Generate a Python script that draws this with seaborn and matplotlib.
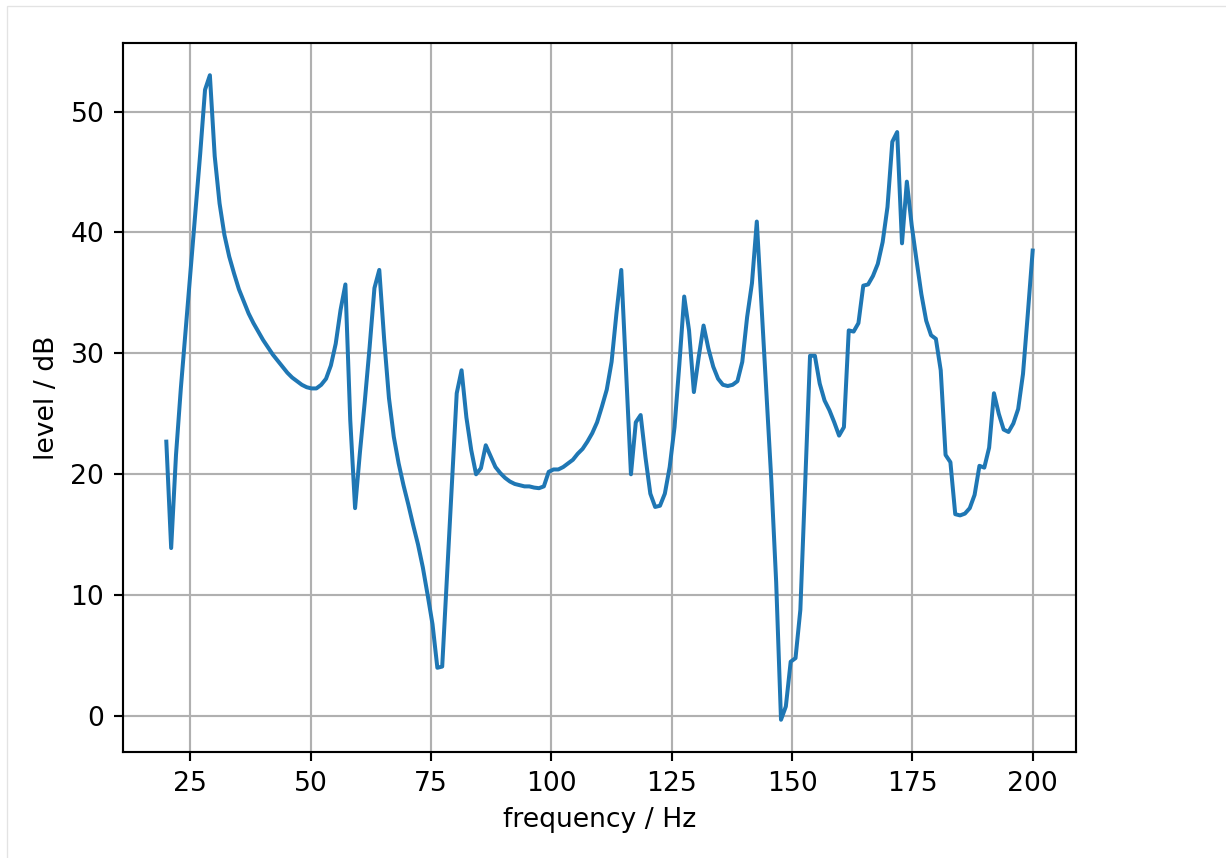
import numpy as np
import pandas as pd
import matplotlib
matplotlib.use("Agg")
import matplotlib.pyplot as plt
import seaborn as sns

# frequency grid (Hz) and measured level (dB)
freq = np.linspace(20, 200, 180)

level_a = [22.7, 13.9, 21.6, 27.1, 32.0, 36.8, 41.6, 46.5, 51.8, 53.0,
           46.3, 42.4, 39.8, 38.0, 36.6, 35.3, 34.3, 33.3, 32.5, 31.8,
           31.1, 30.5, 29.9, 29.4, 28.9, 28.4, 28.0, 27.7, 27.4, 27.2,
           27.1, 27.1, 27.4, 27.9, 29.0, 30.8, 33.6, 35.7, 24.5, 17.2]
level_b = [21.8, 26.0, 30.5, 35.4, 36.9, 31.2, 26.3, 23.1, 20.9, 19.1,
           17.5, 15.8, 14.2, 12.3, 10.0, 7.6, 4.0, 4.1, 11.6, 19.2,
           26.7, 28.6, 24.7, 22.0, 20.0, 20.5, 22.4, 21.5, 20.6, 20.1,
           19.7, 19.4, 19.2, 19.1, 19.0, 19.0, 18.9, 18.85, 19.0, 20.2]
level_c = [20.4, 20.4, 20.6, 20.9, 21.2, 21.7, 22.1, 22.7, 23.4, 24.3,
           25.6, 27.0, 29.3, 33.3, 36.9, 28.5, 20.0, 24.3, 24.9, 21.4,
           18.4, 17.3, 17.4, 18.4, 20.6, 23.9, 29.1, 34.7, 31.9, 26.8,
           29.7, 32.3, 30.4, 28.9, 27.9, 27.4, 27.3, 27.4, 27.7, 29.3]
level_d = [33.0, 35.8, 40.9, 33.8, 26.7, 19.5, 11.1, -0.3, 0.8, 4.5,
           4.8, 8.8, 19.3, 29.8, 29.8, 27.5, 26.1, 25.3, 24.3, 23.2,
           23.9, 31.9, 31.8, 32.5, 35.6, 35.7, 36.4, 37.4, 39.2, 42.1]
level_e = [47.5, 48.3, 39.1, 44.2, 40.6, 37.7, 34.9, 32.7, 31.5, 31.2,
           28.6, 21.6, 21.0, 16.7, 16.6, 16.75, 17.2, 18.3, 20.7, 20.55,
           22.2, 26.7, 25.0, 23.7, 23.5, 24.2, 25.4, 28.3, 33.3, 38.5]

level = level_a + level_b + level_c + level_d + level_e

xticks = [25, 50, 75, 100, 125, 150, 175, 200]
yticks = [0, 10, 20, 30, 40, 50]

df = pd.DataFrame({"frequency": freq, "level": level})

W, H, DPI = 1226, 858, 192
fig = plt.figure(figsize=(W / DPI, H / DPI), dpi=DPI)
ax = fig.add_axes([123 / W, 1 - 752 / H, (1076 - 123) / W, (752 - 43) / H])

sns.lineplot(data=df, x="frequency", y="level", ax=ax, color="#1f77b4",
             linewidth=1.5, estimator=None, sort=False)

ax.set_xticks(xticks)
ax.set_yticks(yticks)
ax.grid(True, color="#b0b0b0", linewidth=0.8)
ax.set_axisbelow(True)
ax.set_xlabel("frequency / Hz", fontsize=10)
ax.set_ylabel("level / dB", fontsize=10)
ax.tick_params(labelsize=10)

# light page border seen around the image
fig.add_artist(plt.Rectangle((7 / W, -0.1), 1.2, (H - 6) / H + 0.1,
                             transform=fig.transFigure, fill=False,
                             edgecolor="#e3e3e3", linewidth=0.5))

fig.savefig("out.png", dpi=DPI)
